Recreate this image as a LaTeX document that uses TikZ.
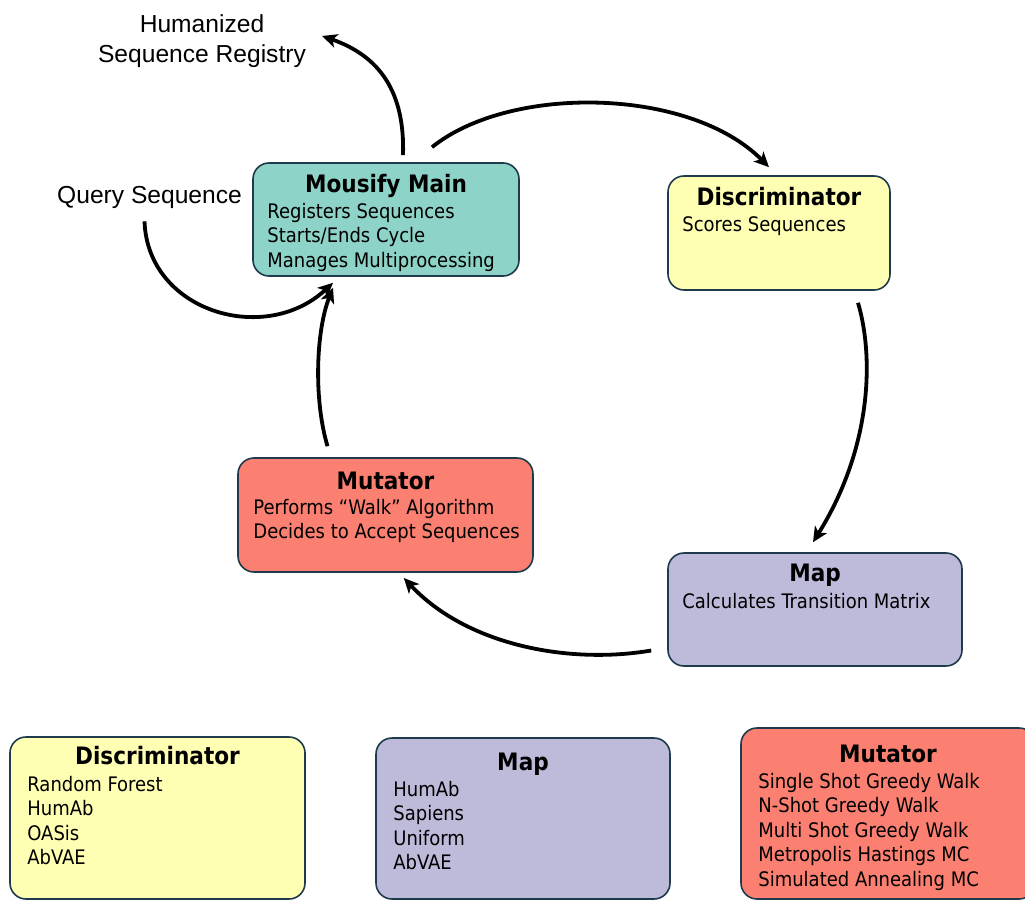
\documentclass[tikz,border=0pt]{standalone}
\usepackage{fontspec}
\setmainfont{DejaVu Sans Condensed}
\newfontfamily\labelfont{Liberation Sans}
\usetikzlibrary{arrows.meta,calc}

\definecolor{mainfill}{HTML}{8DD3C7}
\definecolor{discfill}{HTML}{FFFFB3}
\definecolor{mapfill}{HTML}{BEBADA}
\definecolor{mutfill}{HTML}{FB8072}
\definecolor{boxline}{HTML}{1E3A4C}

% left-aligned block of lines whose first baseline is the node baseline
\newcommand{\boxlines}[1]{\begin{tabular}[t]{@{}l@{}}#1\end{tabular}}

\begin{document}
\begin{tikzpicture}[x=1pt,y=1pt,
  box/.style={draw=boxline, line width=1.6pt, rounded corners=16pt, inner sep=0pt},
  ttl/.style={font=\bfseries\fontsize{24}{28}\selectfont, anchor=base, inner sep=0pt},
  body/.style={font=\fontsize{20}{24.5}\selectfont, anchor=base west, inner sep=0pt},
  lbl/.style={font=\labelfont\fontsize{24.6}{30}\selectfont, inner sep=0pt},
  flow/.style={line width=3.8pt, -{Stealth[length=15pt,width=14pt,inset=4pt]}}]
\useasboundingbox (0,0) rectangle (1025,-901);

% cycle boxes
\node[box, fill=mainfill, minimum width=266pt, minimum height=113pt] (main) at (386,-219.5) {};
\node[box, fill=discfill, minimum width=222pt, minimum height=114pt] (disc) at (779,-233) {};
\node[box, fill=mapfill,  minimum width=294pt, minimum height=113pt] (map)  at (815,-609.5) {};
\node[box, fill=mutfill,  minimum width=295pt, minimum height=114pt] (mut)  at (385.5,-515) {};

% option boxes
\node[box, fill=discfill, minimum width=295pt, minimum height=162pt] (bdisc) at (157.5,-818) {};
\node[box, fill=mapfill,  minimum width=294pt, minimum height=161pt] (bmap)  at (523,-818.5) {};
\node[box, fill=mutfill,  minimum width=294pt, minimum height=171pt] (bmut)  at (888,-813.5) {};

% box texts
\node[ttl] (mainT) at ($(main.north)+(0,-30)$) {Mousify Main};
\node[body] (mainB) at ($(main.north west)+(15,-56)$)
  {\boxlines{Registers Sequences\\Starts/Ends Cycle\\Manages Multiprocessing}};

\node[ttl] (discT) at ($(disc.north)+(0,-30)$) {Discriminator};
\node[body] (discB) at ($(disc.north west)+(15,-56)$) {\boxlines{Scores Sequences}};

\node[ttl] (mapT) at ($(map.north)+(0,-29)$) {Map};
\node[body] (mapB) at ($(map.north west)+(15,-56)$) {\boxlines{Calculates Transition Matrix}};

\node[ttl] (mutT) at ($(mut.north)+(0,-32)$) {Mutator};
\node[body] (mutB) at ($(mut.north west)+(16,-57)$)
  {\boxlines{Performs ``Walk'' Algorithm\\Decides to Accept Sequences}};

\node[ttl] (bdiscT) at ($(bdisc.north)+(0,-28)$) {Discriminator};
\node[body] (bdiscB) at ($(bdisc.north west)+(18,-55)$)
  {\boxlines{Random Forest\\HumAb\\OASis\\AbVAE}};

\node[ttl] (bmapT) at ($(bmap.north)+(0,-33)$) {Map};
\node[body] (bmapB) at ($(bmap.north west)+(18,-59)$)
  {\boxlines{HumAb\\Sapiens\\Uniform\\AbVAE}};

\node[ttl] (bmutT) at ($(bmut.north)+(0,-35)$) {Mutator};
\node[body] (bmutB) at ($(bmut.north west)+(18,-61)$)
  {\boxlines{Single Shot Greedy Walk\\N-Shot Greedy Walk\\Multi Shot Greedy Walk\\Metropolis Hastings MC\\Simulated Annealing MC}};

% free labels
\node[lbl, align=center, anchor=base] (reg) at (202,-63) {Humanized\\Sequence Registry};
\node[lbl, anchor=base west] (query) at (57,-204) {Query Sequence};

% connectors
\draw[flow] ($(main.north)+(17,7)$) .. controls ($(main.north)+(19,70)$) and ($(main.north)+(-6,106)$) .. ($(reg.north east)+(16,-21)$);
\draw[flow] ($(query.south)+(-5,-12)$) .. controls ($(query.south)+(-2,-102)$) and ($(query.south)+(115,-137)$) .. ($(main.south)+(-53,-6)$);
\draw[flow] ($(main.north)+(46,15)$) .. controls ($(main.north)+(124,78)$) and ($(disc.north)+(-89,88)$) .. ($(disc.north)+(-10,8)$);
\draw[flow] ($(disc.south)+(79,-12)$) .. controls ($(disc.south)+(96,-70)$) and ($(disc.south)+(91,-160)$) .. ($(map.north)+(-2,10)$);
\draw[flow] ($(map.west)+(-16,-41)$) .. controls ($(map.west)+(-98,-55)$) and ($(map.west)+(-200,-36)$) .. ($(mut.east)+(-130,-63)$);
\draw[flow] ($(mut.north)+(-58,11)$) .. controls ($(mut.north)+(-72,58)$) and ($(main.south)+(-70,-54)$) .. ($(main.south)+(-53,-11)$);
\end{tikzpicture}
\end{document}
